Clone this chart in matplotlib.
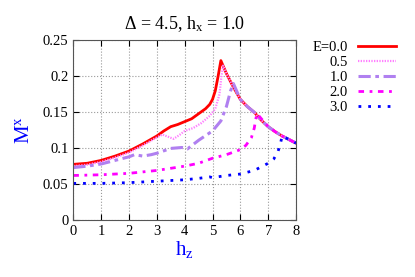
import numpy as np
import matplotlib
matplotlib.use('Agg')
import matplotlib.pyplot as plt
from matplotlib.ticker import FormatStrFormatter

plt.rcParams['font.family'] = ['Liberation Serif', 'DejaVu Serif']
plt.rcParams['mathtext.fontset'] = 'custom'
plt.rcParams['mathtext.rm'] = 'Liberation Serif'
plt.rcParams['mathtext.it'] = 'Liberation Serif'

# common tail after the peak (all curves merge onto it)
hz_tail = [5.5, 5.75, 6.0, 6.25, 6.5, 6.75, 7.0, 7.25, 7.5, 7.75, 8.0]
m_tail = [0.204, 0.185, 0.168, 0.158, 0.150, 0.139, 0.130, 0.123, 0.117, 0.112, 0.107]

# E = 0.0
hz_e0 = [0.0, 0.5, 1.0, 1.5, 2.0, 2.5, 3.0, 3.25, 3.5, 3.75, 4.0, 4.25, 4.5, 4.75,
         4.9, 5.0, 5.1, 5.2, 5.3] + hz_tail
m_e0 = [0.0775, 0.079, 0.083, 0.089, 0.096, 0.106, 0.117, 0.124, 0.130, 0.133, 0.137,
        0.141, 0.148, 0.155, 0.161, 0.168, 0.180, 0.200, 0.222] + m_tail

# E = 0.5
hz_e05 = [0.0, 0.5, 1.0, 1.5, 2.0, 2.5, 3.0, 3.2, 3.4, 3.6, 3.8, 4.0, 4.3, 4.6, 4.9,
          5.1, 5.25, 5.32, 5.38] + hz_tail
m_e05 = [0.075, 0.077, 0.081, 0.087, 0.094, 0.104, 0.115, 0.119, 0.116, 0.113, 0.118,
         0.124, 0.128, 0.135, 0.145, 0.155, 0.175, 0.200, 0.215] + m_tail

# E = 1.0
hz_e1 = [0.0, 0.5, 1.0, 1.5, 2.0, 2.2, 2.5, 2.8, 3.0, 3.5, 3.9, 4.1, 4.5, 5.0, 5.3,
         5.5, 5.65, 5.75] + hz_tail[2:]
m_e1 = [0.073, 0.075, 0.078, 0.083, 0.088, 0.091, 0.089, 0.091, 0.093, 0.0997, 0.101,
        0.099, 0.111, 0.124, 0.138, 0.158, 0.180, 0.190] + m_tail[2:]

# E = 2.0
hz_e2 = [0.0, 1.0, 2.0, 3.0, 4.0, 4.5, 5.0, 5.5, 6.0, 6.2, 6.4, 6.5, 6.55, 6.6] + hz_tail[6:]
m_e2 = [0.062, 0.063, 0.065, 0.069, 0.075, 0.079, 0.086, 0.091, 0.098, 0.104, 0.115,
        0.128, 0.140, 0.148] + m_tail[6:]

# E = 3.0
hz_e3 = [0.0, 1.0, 2.0, 3.0, 4.0, 4.5, 4.9, 5.0, 5.5, 6.0, 6.5, 7.0, 7.2, 7.35, 7.45,
         7.5, 7.75, 8.0]
m_e3 = [0.051, 0.051, 0.052, 0.054, 0.056, 0.058, 0.060, 0.059, 0.062, 0.064, 0.069,
        0.079, 0.085, 0.095, 0.108, 0.117, 0.112, 0.107]

labels = ['E=0.0', '0.5', '1.0', '2.0', '3.0']

fig = plt.figure(figsize=(4.15, 2.77), dpi=100)
ax = fig.add_axes([0.1767, 0.2058, 0.5366, 0.648])

ax.plot(hz_e0, m_e0, color='#ff0000', lw=2.0, ls='-', label=labels[0])
ax.plot(hz_e05, m_e05, color='#ff80ff', lw=1.6, ls=(0, (0.6, 0.6)), label=labels[1])
ax.plot(hz_e1, m_e1, color='#b080f0', lw=2.2, ls=(0, (4, 1.5, 1.2, 1.5)), label=labels[2])
ax.plot(hz_e2, m_e2, color='#ff00ff', lw=2.0, ls=(0, (2, 2, 1, 2)), label=labels[3])
ax.plot(hz_e3, m_e3, color='#0000ff', lw=2.0, ls=(0, (1, 2.5)), label=labels[4])

ax.set_xlim(0, 8)
ax.set_ylim(0, 0.25)
ax.set_xticks(np.arange(0, 9, 1))
ax.set_yticks(np.arange(0, 0.26, 0.05))
ax.yaxis.set_major_formatter(FormatStrFormatter('%g'))
ax.tick_params(direction='in', top=True, right=True, labelsize=10.5, length=4)
ax.grid(True, color='#999999', ls=':', lw=0.8)
for s in ax.spines.values():
    s.set_color('#555555')

ax.set_title(r'$\Delta$ = 4.5, h$_\mathrm{x}$ = 1.0', fontsize=13, pad=8)
ax.set_xlabel(r'h$_\mathrm{z}$', color='#0000ff', fontsize=15, labelpad=1)
ax.set_ylabel(r'M$^\mathrm{x}$', color='#0000ff', fontsize=15, labelpad=6)

ax.legend(loc='upper left', bbox_to_anchor=(1.015, 1.07), frameon=False,
          markerfirst=False, fontsize=10.5, handlelength=2.6, labelspacing=0.12,
          handletextpad=0.7)

fig.savefig('out.png', dpi=100)
